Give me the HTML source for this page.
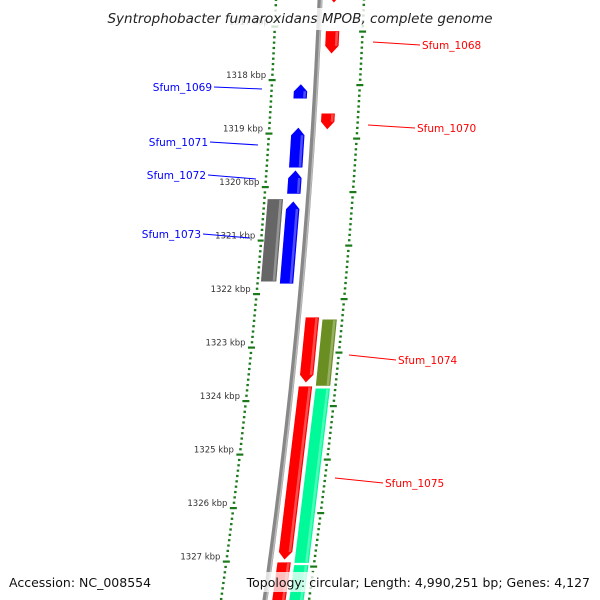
<!DOCTYPE html>
<html><head><meta charset="utf-8"><style>html,body{margin:0;padding:0;background:#fff}svg{display:block}</style></head>
<body>
<svg id="map" width="600" height="600" viewBox="0 0 600 600" xmlns="http://www.w3.org/2000/svg" font-family="'DejaVu Sans','Liberation Sans',sans-serif"></svg>
<script>
// data (kbp)
const tickKbp = [1316,1317,1318,1319,1320,1321,1322,1323,1324,1325,1326,1327,1328];
const featStart = [1316.15,1317.10,1318.64,1318.09,1318.90,1319.70,1320.28,1320.24,1322.45,1322.49,1323.74,1323.78,1327.03,1327.08];
const featEnd   = [1316.58,1317.53,1318.95,1318.37,1319.66,1320.15,1321.83,1321.79,1323.68,1323.74,1326.99,1327.05,1327.95,1327.95];
const featLane  = [1,1,1,-1,-1,-1,-1,-2,1,2,1,2,1,2];
const featDir   = [1,1,1,-1,-1,-1,-1,0,1,0,1,0,1,0];
const featColor = ['#ff0000','#ff0000','#ff0000','#0000ff','#0000ff','#0000ff','#0000ff','#666666','#ff0000','#6b8e23','#ff0000','#00fa9a','#ff0000','#00fa9a'];
const labelNames = ['Sfum_1068','Sfum_1070','Sfum_1074','Sfum_1075','Sfum_1069','Sfum_1071','Sfum_1072','Sfum_1073'];
const labelColor = ['#ff0000','#ff0000','#ff0000','#ff0000','#0000ff','#0000ff','#0000ff','#0000ff'];
const labelX1 = [373,368,349,335,262,258,256,250];
const labelY1 = [42,125,355,478,89,145,179,238];
const labelX2 = [420,415,396,383,214,210,208,203];
const labelY2 = [45,128,360,483,87,142,175,234];

const NS='http://www.w3.org/2000/svg', svg=document.getElementById('map');
function ky(k){return 79+(k-1318)*53.5;}
function cx(y){return -8.333e-5*y*y-0.04167*y+320;}
function mk(tag,attrs,parent){const e=document.createElementNS(NS,tag);for(const a in attrs)e.setAttribute(a,attrs[a]);(parent||svg).appendChild(e);return e;}
const laneOff={1:[7,21],2:[24,39],'-1':[-22,-8],'-2':[-41,-25]};

// backbone
let d='';for(let y=-10;y<=610;y+=10){d+=(y==-10?'M':'L')+cx(y).toFixed(1)+' '+y;}
const bb=mk('path',{d:d,stroke:'#888',fill:'none','stroke-width':5});

const bb2=mk('path',{d:d,stroke:'#bbb',fill:'none','stroke-width':1.5,transform:'translate(1.5,0)'});


// ticks
for(let k=1316;k<=1328.001;k+=0.1){
  const kk=Math.round(k*10)/10, major=Math.abs(kk-Math.round(kk))<0.01;
  const yl=ky(kk)+1, yr=ky(kk)+6;
  const xl=cx(yl)-44, xr=cx(yr)+44;
  const w=major?7:2.5;
  const t1=mk('rect',{x:xl-w/2,y:yl-1,width:w,height:2.2,fill:'#1a7a1a'});
  
  const t2=mk('rect',{x:xr-w/2,y:yr-1,width:w,height:2.2,fill:'#1a7a1a'});
  
}
tickKbp.forEach(k=>{
  const y=ky(k);
  const t=mk('text',{x:cx(y)-50,y:y-1,'font-size':8.5,fill:'#333','text-anchor':'end'});
  t.textContent=k+' kbp';
  
});

// features
featStart.forEach((s,i)=>{
  let y1=ky(s),y2=ky(featEnd[i]);
  const o=laneOff[featLane[i]],dir=featDir[i],ah=Math.min(8,(y2-y1)*0.5);
  const P=(off,y)=>(cx(y)+off).toFixed(1)+','+y.toFixed(1);
  const mid=(o[0]+o[1])/2;let pts;
  if(dir==1){pts=[P(o[0],y1),P(o[1],y1),P(o[1],y2-ah),P(mid,y2),P(o[0],y2-ah)];}
  else if(dir==-1){pts=[P(mid,y1),P(o[1],y1+ah),P(o[1],y2),P(o[0],y2),P(o[0],y1+ah)];}
  else{pts=[P(o[0],y1),P(o[1],y1),P(o[1],y2),P(o[0],y2)];}
  const g=mk('polygon',{points:pts.join(' '),fill:featColor[i],stroke:'#fff','stroke-width':0.6});
  
  const ya=dir==-1?y1+ah:y1+1, yb=dir==1?y2-ah:y2-1;
  const sh=mk('polygon',{points:[P(o[1]-4,ya),P(o[1]-1.5,ya),P(o[1]-1.5,yb),P(o[1]-4,yb)].join(' '),fill:'#fff',opacity:0.3});
  
});

// labels
labelNames.forEach((n,i)=>{
  const l=mk('line',{x1:labelX1[i],y1:labelY1[i],x2:labelX2[i],y2:labelY2[i],stroke:labelColor[i],'stroke-width':1});
  
  const right=labelX2[i]>labelX1[i];
  const t=mk('text',{x:right?labelX2[i]+2:labelX2[i]-2,y:labelY2[i]+4,'font-size':10.5,fill:labelColor[i],'text-anchor':right?'start':'end'});
  t.textContent=n;
  
});

// title & footer
const tb=mk('rect',{x:100,y:8,width:400,height:22,fill:'#fff',opacity:0.8});

const tt=mk('text',{x:300,y:23,'font-size':13.5,'font-style':'italic',fill:'#222','text-anchor':'middle'});
tt.textContent='Syntrophobacter fumaroxidans MPOB, complete genome';

const fb=mk('rect',{x:228,y:572,width:370,height:20,fill:'#fff',opacity:0.75});

const a=mk('text',{x:9,y:587,'font-size':12.5,fill:'#111'});a.textContent='Accession: NC_008554';

const b=mk('text',{x:590,y:587,'font-size':12.5,fill:'#111','text-anchor':'end'});b.textContent='Topology: circular; Length: 4,990,251 bp; Genes: 4,127';

</script>
</body></html>
